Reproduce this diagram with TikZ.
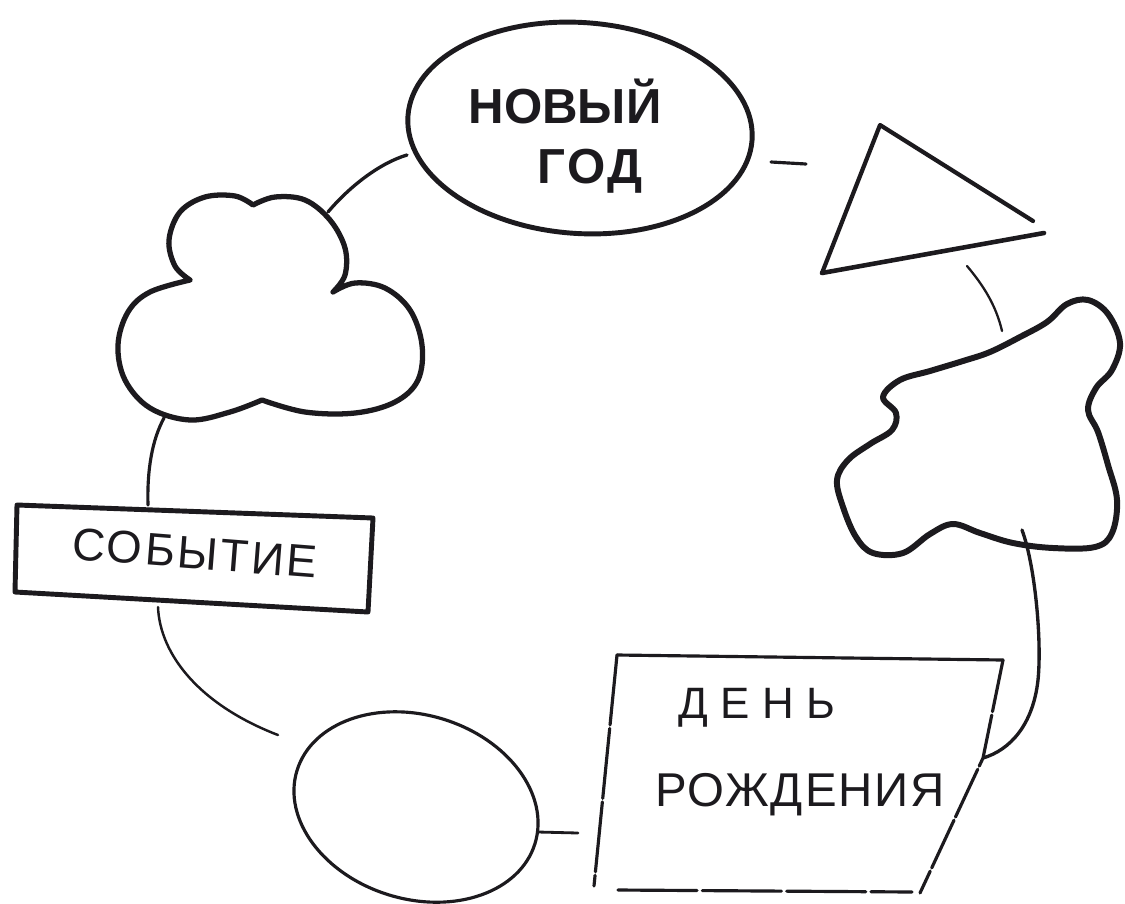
\documentclass[tikz,border=0pt]{standalone}
\usepackage{fontspec}
\setmainfont{Liberation Sans}
\usetikzlibrary{shapes.geometric}
\definecolor{ink}{RGB}{28,26,30}
\begin{document}
\begin{tikzpicture}[x=0.02cm,y=-0.02cm,
  outline/.style={draw=ink, line width=3pt, line cap=round, line join=round},
  thinline/.style={draw=ink, line width=1.8pt, line cap=round, line join=round},
  link/.style={draw=ink, line width=1.5pt, line cap=round},
  lbl/.style={text=ink, inner sep=0pt, outer sep=0pt},
]
\useasboundingbox (0,0) rectangle (1125,903);
\fill[white] (0,0) rectangle (1125,903);

% ---------- top ellipse: Novyi god ----------
\node[ellipse, draw=ink, line width=2.8pt, minimum width=6.9cm, minimum height=4.22cm,
      rotate=-4, inner sep=0pt] (newyear) at (580,128) {};
\node[lbl, anchor=base, font=\fontsize{28}{30}\selectfont\bfseries] (ny1) at (565,123) {НОВЫЙ};
\node[lbl, anchor=base, font=\fontsize{28}{30}\selectfont\bfseries\addfontfeature{LetterSpace=6}] (ny2) at (590,183) {ГОД};

% ---------- triangle ----------
\coordinate (triL) at (822,273);
\coordinate (triT) at (880,125);
\coordinate (triR) at (1044,233);
\draw[draw=ink, line width=2.4pt, line cap=round, line join=round]
  (triL) -- (triT) -- (1033,221);
\draw[draw=ink, line width=2.6pt, line cap=round] (triL) -- (triR);

% ---------- right blob ----------
\draw[draw=ink, line width=3.4pt, line join=round]
  plot[smooth cycle, tension=0.6] coordinates {
   (883,397) (900,380) (930,371) (963,361) (990,352) (1020,337) (1047,322)
   (1067,304) (1088,300) (1108,314) (1120,343) (1112,370) (1096,388) (1088,410)
   (1098,432) (1108,465) (1117,500) (1112,533) (1095,547) (1053,548) (1013,543)
   (980,533) (953,524) (930,534) (903,553) (873,553) (856,537) (843,507)
   (837,480) (848,460) (870,444) (892,430) (896,413)};

% ---------- cloud ----------
\draw[outline]
  plot[smooth, tension=0.6] coordinates {(190,280) (175,266) (169,240) (180,212) (205,197) (235,196) (253,205)}
  -- plot[smooth, tension=0.6] coordinates {(253,205) (275,197) (305,200) (330,220) (345,248) (345,275) (333,292)}
  -- plot[smooth, tension=0.6] coordinates {(333,292) (355,283) (385,288) (410,310) (422,345) (418,380) (395,402) (355,413) (305,412) (262,400)}
  -- plot[smooth, tension=0.6] coordinates {(262,400) (230,412) (190,420) (150,408) (125,380) (118,345) (128,312) (150,292) (190,280)};

% ---------- Sobytie rectangle ----------
\draw[draw=ink, line width=2.8pt, line join=round, line cap=round]
  (17,505) -- (373,518) -- (368,612) -- (15,592) -- cycle;
\node[lbl, rotate=-4.5, font=\fontsize{26}{28}\selectfont\addfontfeature{LetterSpace=6}] (ev) at (195,553) {СОБЫТИЕ};

% ---------- bottom ellipse ----------
\node[ellipse, draw=ink, line width=1.8pt, minimum width=4.98cm, minimum height=3.68cm,
      rotate=-17, inner sep=0pt] (oval) at (416,807) {};

% ---------- Den' rozhdeniya box ----------
\draw[thinline] (617,655) -- (1003,660);
\draw[thinline, dash pattern=on 40pt off 2pt] (617,655) -- (594,886);
\draw[thinline, dash pattern=on 30pt off 2pt] (1003,660) -- (983,758) -- (920,893);
\draw[thinline, dash pattern=on 45pt off 3pt] (618,890) -- (912,892);
\node[lbl, anchor=base, font=\fontsize{25}{27}\selectfont\addfontfeature{LetterSpace=28}] (bd1) at (757,718) {ДЕНЬ};
\node[lbl, anchor=base, font=\fontsize{27}{29}\selectfont\addfontfeature{LetterSpace=4}] (bd2) at (800,806) {РОЖДЕНИЯ};

% ---------- connectors ----------
\coordinate (cloudTR) at (328,212);
\coordinate (nyL) at (407,155);
\draw[link, line width=1.9pt] (cloudTR) .. controls (350,186) and (380,163) .. (nyL);

\coordinate (dashA) at (771,162);
\coordinate (dashB) at (806,164);
\draw[link, line width=1.8pt] (dashA) -- (dashB);

\coordinate (triB) at (967,266);
\coordinate (blobT) at (1002,331);
\draw[link, line width=1.3pt] (triB) .. controls (983,285) and (996,305) .. (blobT);

\coordinate (blobB) at (1022,530);
\coordinate (bdR) at (983,758);
\draw[link, line width=1.9pt] (blobB) .. controls (1035,565) and (1042,640) .. (1038,680)
   .. controls (1033,725) and (1010,750) .. (bdR);

\coordinate (ovalR) at (538,832);
\coordinate (bdL) at (578,833);
\draw[link, line width=1.6pt] (ovalR) -- (bdL);

\coordinate (evB) at (158,607);
\coordinate (arcEnd) at (278,735);
\draw[link, line width=1.4pt] (evB) .. controls (160,655) and (200,705) .. (arcEnd);

\coordinate (cloudB) at (164,418);
\coordinate (evT) at (148,505);
\draw[link, line width=1.8pt] (cloudB) .. controls (152,440) and (147,470) .. (evT);
\end{tikzpicture}
\end{document}
